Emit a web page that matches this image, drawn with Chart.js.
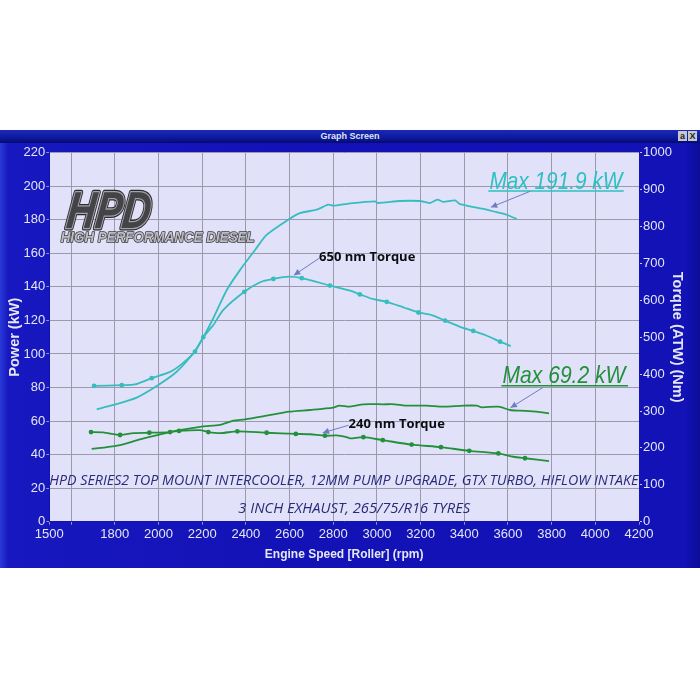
<!DOCTYPE html>
<html>
<head>
<meta charset="utf-8">
<title>Graph Screen</title>
<script src="https://cdn.jsdelivr.net/npm/chart.js@4"></script>
<style>
    html, body { margin: 0; padding: 0; width: 700px; height: 700px; background: #fff; overflow: hidden; }
    #ventana { position: absolute; left: 0; top: 130px; width: 700px; height: 438px;
        background: linear-gradient(90deg, #2a3ad8 0, #1818c0 8px, #1212b6 40%, #1212b6 98%, #0c0c98 100%); }
    #barra { position: absolute; left: 0; top: 0; width: 700px; height: 13px;
        background: linear-gradient(180deg, #1c28b8 0, #0c1a9c 60%, #050a70 100%);
        color: #dfe4f5; font: bold 9px "Liberation Sans", sans-serif; line-height: 13px; text-align: center; }
    .boton { position: absolute; top: 1px; width: 9px; height: 10px; background: #c4c6d0; color: #222;
        font: bold 9px "Liberation Sans", sans-serif; line-height: 10px; text-align: center; }
    #grafico { position: absolute; left: 0; top: 0; }
</style>
</head>
<body>
<div id="ventana">
    <canvas id="grafico" width="700" height="438"></canvas>
    <div id="barra">Graph Screen<span class="boton" style="left:678px">a</span><span class="boton" style="left:688px">X</span></div>
</div>
<script>
// Ticks de los ejes
const rpmTicks = [1500, 1600, 1800, 2000, 2200, 2400, 2600, 2800, 3000, 3200, 3400, 3600, 3800, 4000, 4200];
const rpmSinEtiqueta = [1600];

// Curvas cian (despues del tuning)
const potenciaCianRpm = [1717, 1793, 1900, 1999, 2083, 2159, 2205, 2251, 2312, 2373, 2442, 2495, 2599, 2648, 2724, 2777, 2800, 2877, 2991, 3005, 3106, 3197, 3243, 3277, 3303, 3358, 3381, 3487, 3548, 3594, 3640];
const potenciaCianKw = [67, 69.6, 74, 81.5, 89.4, 100.4, 110, 121.3, 138, 150, 162, 171, 180.5, 184, 186, 189, 188.4, 189.8, 191, 190, 191.2, 191.2, 190, 192, 190.7, 191.6, 189.3, 186.5, 184.5, 183, 180.5];
const torqueCianRpm = [1705, 1832, 1892, 1969, 2053, 2106, 2167, 2205, 2251, 2297, 2393, 2465, 2526, 2599, 2656, 2785, 2877, 2922, 2984, 3045, 3121, 3190, 3251, 3312, 3381, 3441, 3503, 3564, 3613];
const torqueCianNm = [368, 370, 372, 389, 406, 427, 461, 500, 533, 574, 623, 649, 658, 664, 660, 640, 626, 616, 603, 596, 581, 567, 560, 545, 528, 517, 504, 488, 476];
const marcasCian = [1705, 1832, 1969, 2167, 2205, 2393, 2526, 2656, 2785, 2922, 3045, 3190, 3312, 3441, 3564];

// Curvas verdes (antes del tuning)
const potenciaVerdeRpm = [1694, 1800, 1854, 1915, 1999, 2083, 2198, 2282, 2343, 2396, 2495, 2599, 2694, 2800, 2828, 2877, 2938, 3029, 3082, 3129, 3228, 3304, 3396, 3457, 3480, 3556, 3610, 3655, 3731, 3788];
const potenciaVerdeKw = [43.4, 45.1, 46.7, 49.1, 51.7, 54.3, 56.7, 57.7, 60.2, 61, 63.2, 65.6, 66.6, 68, 69.2, 68.6, 70, 70, 70, 69.2, 69.2, 68.6, 69.2, 69.2, 68.2, 68.6, 66.6, 66.2, 65.6, 64.6];
const torqueVerdeRpm = [1691, 1747, 1824, 1885, 1958, 2053, 2094, 2190, 2228, 2282, 2361, 2495, 2629, 2694, 2762, 2816, 2862, 2877, 2938, 3027, 3159, 3293, 3423, 3556, 3625, 3678, 3788];
const torqueVerdeNm = [243, 242, 235, 240, 241, 243, 246, 248, 243, 240, 245, 241, 238, 237, 233, 234, 229, 226, 229, 221, 209, 202, 192, 185, 176, 172, 164];
const marcasVerde = [1691, 1824, 1958, 2053, 2094, 2228, 2361, 2495, 2629, 2762, 2938, 3027, 3159, 3293, 3423, 3556, 3678];

const CIAN = "#38bdbd";
const VERDE = "#23913a";
const FLECHA = "#6f7cc4";
const ETIQUETA = "#e4e6f6";
const FUENTE_EJE = "Liberation Sans";

function puntos(xs, ys) {
    return xs.map((x, i) => ({ x: x, y: ys[i] }));
}

function curva(nombre, xs, ys, color, eje, marcas) {
    return {
        label: nombre,
        data: puntos(xs, ys),
        yAxisID: eje,
        showLine: true,
        borderColor: color,
        backgroundColor: color,
        borderWidth: 1.8,
        tension: 0.25,
        pointRadius: ctx => (marcas.includes(ctx.raw.x) ? 1.5 : 0),
        pointHoverRadius: 0
    };
}

// Texto ajustado a un ancho dado, para que ocupe lo mismo que en la captura
function textoAjustado(ctx, texto, x, y, ancho) {
    ctx.save();
    const medido = ctx.measureText(texto).width;
    ctx.translate(x, y);
    ctx.scale(ancho / medido, 1);
    ctx.fillText(texto, 0, 0);
    ctx.restore();
}

function flecha(ctx, x0, y0, x1, y1) {
    const ang = Math.atan2(y1 - y0, x1 - x0);
    ctx.strokeStyle = FLECHA;
    ctx.fillStyle = FLECHA;
    ctx.lineWidth = 1;
    ctx.beginPath();
    ctx.moveTo(x0, y0);
    ctx.lineTo(x1, y1);
    ctx.stroke();
    ctx.beginPath();
    ctx.moveTo(x1, y1);
    ctx.lineTo(x1 - 7 * Math.cos(ang - 0.45), y1 - 7 * Math.sin(ang - 0.45));
    ctx.lineTo(x1 - 7 * Math.cos(ang + 0.45), y1 - 7 * Math.sin(ang + 0.45));
    ctx.closePath();
    ctx.fill();
}

const fondoPlot = {
    id: "fondoPlot",
    beforeDraw(chart) {
        const a = chart.chartArea;
        chart.ctx.save();
        chart.ctx.fillStyle = "#e1e1fa";
        chart.ctx.fillRect(a.left, a.top, a.width, a.height);
        chart.ctx.restore();
    }
};

const logo = {
    id: "logo",
    beforeDatasetsDraw(chart) {
        const ctx = chart.ctx;
        const px = chart.scales.x, py = chart.scales.kw;
        const x = px.getPixelForValue(1573), y = py.getPixelForValue(175);
        ctx.save();
        ctx.lineJoin = "round";
        ctx.font = "italic bold 52px 'Liberation Sans'";
        ctx.save();
        ctx.transform(1, 0, -0.12, 1, x, y);
        ctx.scale(84 / ctx.measureText("HPD").width, 1);
        ctx.lineWidth = 5;
        ctx.strokeStyle = "#2c2c30";
        ctx.strokeText("HPD", 0, 0);
        ctx.lineWidth = 2.6;
        ctx.strokeStyle = "#a4a4a8";
        ctx.strokeText("HPD", 0, 0);
        ctx.fillStyle = "#434348";
        ctx.fillText("HPD", 0, 0);
        ctx.restore();
        ctx.font = "italic bold 15px 'Liberation Sans'";
        const x2 = px.getPixelForValue(1552), y2 = py.getPixelForValue(166.5);
        ctx.save();
        ctx.translate(x2, y2);
        ctx.scale(194 / ctx.measureText("HIGH PERFORMANCE DIESEL").width, 1);
        ctx.lineWidth = 1.6;
        ctx.strokeStyle = "#3a3a40";
        ctx.strokeText("HIGH PERFORMANCE DIESEL", 0, 0);
        ctx.fillStyle = "#bdbdc2";
        ctx.fillText("HIGH PERFORMANCE DIESEL", 0, 0);
        ctx.restore();
        ctx.restore();
    }
};

const anotaciones = {
    id: "anotaciones",
    afterDatasetsDraw(chart) {
        const ctx = chart.ctx;
        const px = v => chart.scales.x.getPixelForValue(v);
        const py = v => chart.scales.kw.getPixelForValue(v);
        ctx.save();

        // Texto de las modificaciones
        ctx.fillStyle = "#2a2a78";
        ctx.font = "italic 15px 'Open Sans'";
        textoAjustado(ctx, "HPD SERIES2 TOP MOUNT INTERCOOLER, 12MM PUMP UPGRADE, GTX TURBO, HIFLOW INTAKE", px(1500), py(22), 589);
        textoAjustado(ctx, "3 INCH EXHAUST, 265/75/R16 TYRES", px(2365), py(5.2), 232);

        // Rotulos de torque
        ctx.fillStyle = "#0c0c10";
        ctx.font = "bold 13px 'Open Sans'";
        ctx.fillText("650 nm Torque", px(2735), py(155.2));
        ctx.fillText("240 nm Torque", px(2870), py(56));
        flecha(ctx, px(2735), py(157), px(2620), py(147));
        flecha(ctx, px(2870), py(57.5), px(2752), py(53));

        // Maximos
        ctx.font = "italic 24px 'Liberation Sans'";
        ctx.fillStyle = "#2cc0c0";
        ctx.strokeStyle = "#2cc0c0";
        textoAjustado(ctx, "Max 191.9 kW", px(3515), py(198.2), 133);
        ctx.lineWidth = 1.5;
        ctx.beginPath();
        ctx.moveTo(px(3510), py(197.2));
        ctx.lineTo(px(4130), py(197.2));
        ctx.stroke();
        ctx.fillStyle = VERDE;
        ctx.strokeStyle = VERDE;
        textoAjustado(ctx, "Max 69.2 kW", px(3575), py(82.5), 123);
        ctx.beginPath();
        ctx.moveTo(px(3570), py(81));
        ctx.lineTo(px(4150), py(81));
        ctx.stroke();
        flecha(ctx, px(3702), py(197), px(3522), py(187.5));
        flecha(ctx, px(3760), py(80), px(3612), py(68));
        ctx.restore();
    }
};

const escalaTicks = {
    color: ETIQUETA,
    font: { family: FUENTE_EJE, size: 13 },
    padding: 1,
    callback: v => String(v)
};
const tituloEje = (texto, tam, relleno) => ({
    display: true,
    text: texto,
    color: ETIQUETA,
    font: { family: "Liberation Sans", size: tam, weight: "bold" },
    padding: relleno
});

new Chart(document.getElementById("grafico"), {
    type: "scatter",
    data: {
        datasets: [
            curva("Power tuned", potenciaCianRpm, potenciaCianKw, CIAN, "kw", []),
            curva("Torque tuned", torqueCianRpm, torqueCianNm, CIAN, "nm", marcasCian),
            curva("Power stock", potenciaVerdeRpm, potenciaVerdeKw, VERDE, "kw", []),
            curva("Torque stock", torqueVerdeRpm, torqueVerdeNm, VERDE, "nm", marcasVerde)
        ]
    },
    plugins: [fondoPlot, logo, anotaciones],
    options: {
        responsive: false,
        animation: false,
        layout: { padding: { top: 22.7 } },
        plugins: { legend: { display: false }, tooltip: { enabled: false } },
        scales: {
            x: {
                type: "linear",
                min: 1500,
                max: 4200,
                afterBuildTicks: eje => { eje.ticks = rpmTicks.map(v => ({ value: v })); },
                afterFit: eje => { eje.height = 46.3; },
                ticks: {
                    ...escalaTicks,
                    autoSkip: false,
                    maxRotation: 0,
                    padding: 2,
                    callback: v => (rpmSinEtiqueta.includes(v) ? "" : String(v))
                },
                grid: { color: "#9b99ab", tickLength: 3, lineWidth: 1 },
                border: { color: "#1212b6" },
                title: tituloEje("Engine Speed [Roller] (rpm)", 12, { top: 0, bottom: 6 })
            },
            kw: {
                position: "left",
                min: 0,
                max: 220,
                afterFit: eje => { eje.width = 49.3; },
                ticks: { ...escalaTicks, stepSize: 20 },
                grid: { color: "#9b99ab", tickLength: 3, lineWidth: 1 },
                border: { color: "#1212b6" },
                title: tituloEje("Power (kW)", 14.5, { top: 6, bottom: 0 })
            },
            nm: {
                position: "right",
                min: 0,
                max: 1000,
                afterFit: eje => { eje.width = 61; },
                ticks: { ...escalaTicks, stepSize: 100 },
                grid: { drawOnChartArea: false, color: "#c8c8e8", tickLength: 3 },
                border: { color: "#1212b6" },
                title: tituloEje("Torque (ATW) (Nm)", 14.5, { top: 14, bottom: 0 })
            }
        }
    }
});
</script>
</body>
</html>
